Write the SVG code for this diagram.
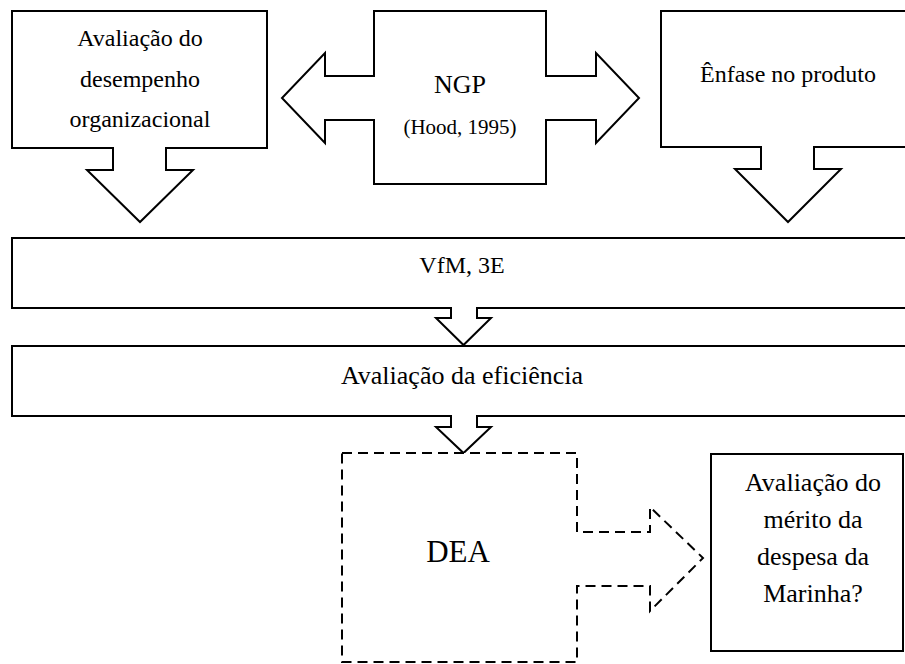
<svg xmlns="http://www.w3.org/2000/svg" width="905" height="664" viewBox="0 0 905 664">
<style>
.s{fill:#fff;stroke:#000;stroke-width:2;stroke-linejoin:miter}
.d{fill:#fff;stroke:#000;stroke-width:2;stroke-dasharray:10 6}
.t{font-family:'Liberation Serif','DejaVu Serif',serif;fill:#000;text-anchor:middle}
</style>
<rect width="905" height="664" fill="#fff"/>
<g id="connectors"></g>
<g id="aval-desempenho">
<path class="s" d="M12,11 H267 V148 H166 V170 H193 L140,222 L87,170 H113 V148 H12 Z"/>
<text class="t" font-family="Liberation Serif, serif" x="140" y="46" font-size="24">Avaliação do</text>
<text class="t" font-family="Liberation Serif, serif" x="140" y="87" font-size="24">desempenho</text>
<text class="t" font-family="Liberation Serif, serif" x="140" y="127" font-size="24">organizacional</text>
</g>
<g id="ngp">
<path class="s" d="M374,11 H546 V76 H596 V53 L639,98 L596,143 V120 H546 V184 H374 V120 H325 V143 L282,98 L325,53 V76 H374 Z"/>
<text class="t" font-family="Liberation Serif, serif" x="460" y="93" font-size="26">NGP</text>
<text class="t" font-family="Liberation Serif, serif" x="460" y="134" font-size="21">(Hood, 1995)</text>
</g>
<g id="enfase">
<path class="s" d="M661,11 H914 V147 H814 V169 H841 L788,222 L735,169 H761 V147 H661 Z"/>
<text class="t" font-family="Liberation Serif, serif" x="788" y="82" font-size="24">Ênfase no produto</text>
</g>
<g id="vfm">
<path class="s" d="M12,238 H914 V308 H477 V318 H491 L463.5,345 L436,318 H451 V308 H12 Z"/>
<text class="t" font-family="Liberation Serif, serif" x="462" y="273" font-size="24">VfM, 3E</text>
</g>
<g id="eficiencia">
<path class="s" d="M12,346 H914 V416 H477 V427 H491 L463.5,453 L436,427 H451 V416 H12 Z"/>
<text class="t" font-family="Liberation Serif, serif" x="462" y="384" font-size="26">Avaliação da eficiência</text>
</g>
<g id="dea">
<path class="d" d="M342,453 H577 V532 H650 V507 L703,558 L650,611 V586 H577 V662 H342 Z"/>
<text class="t" font-family="Liberation Serif, serif" x="458" y="562" font-size="31">DEA</text>
</g>
<g id="merito">
<rect class="s" x="711" y="454" width="192" height="197"/>
<text class="t" font-family="Liberation Serif, serif" x="813" y="491" font-size="26">Avaliação do</text>
<text class="t" font-family="Liberation Serif, serif" x="813" y="528" font-size="26">mérito da</text>
<text class="t" font-family="Liberation Serif, serif" x="813" y="565" font-size="26">despesa da</text>
<text class="t" font-family="Liberation Serif, serif" x="813" y="602" font-size="26">Marinha?</text>
</g>
</svg>
